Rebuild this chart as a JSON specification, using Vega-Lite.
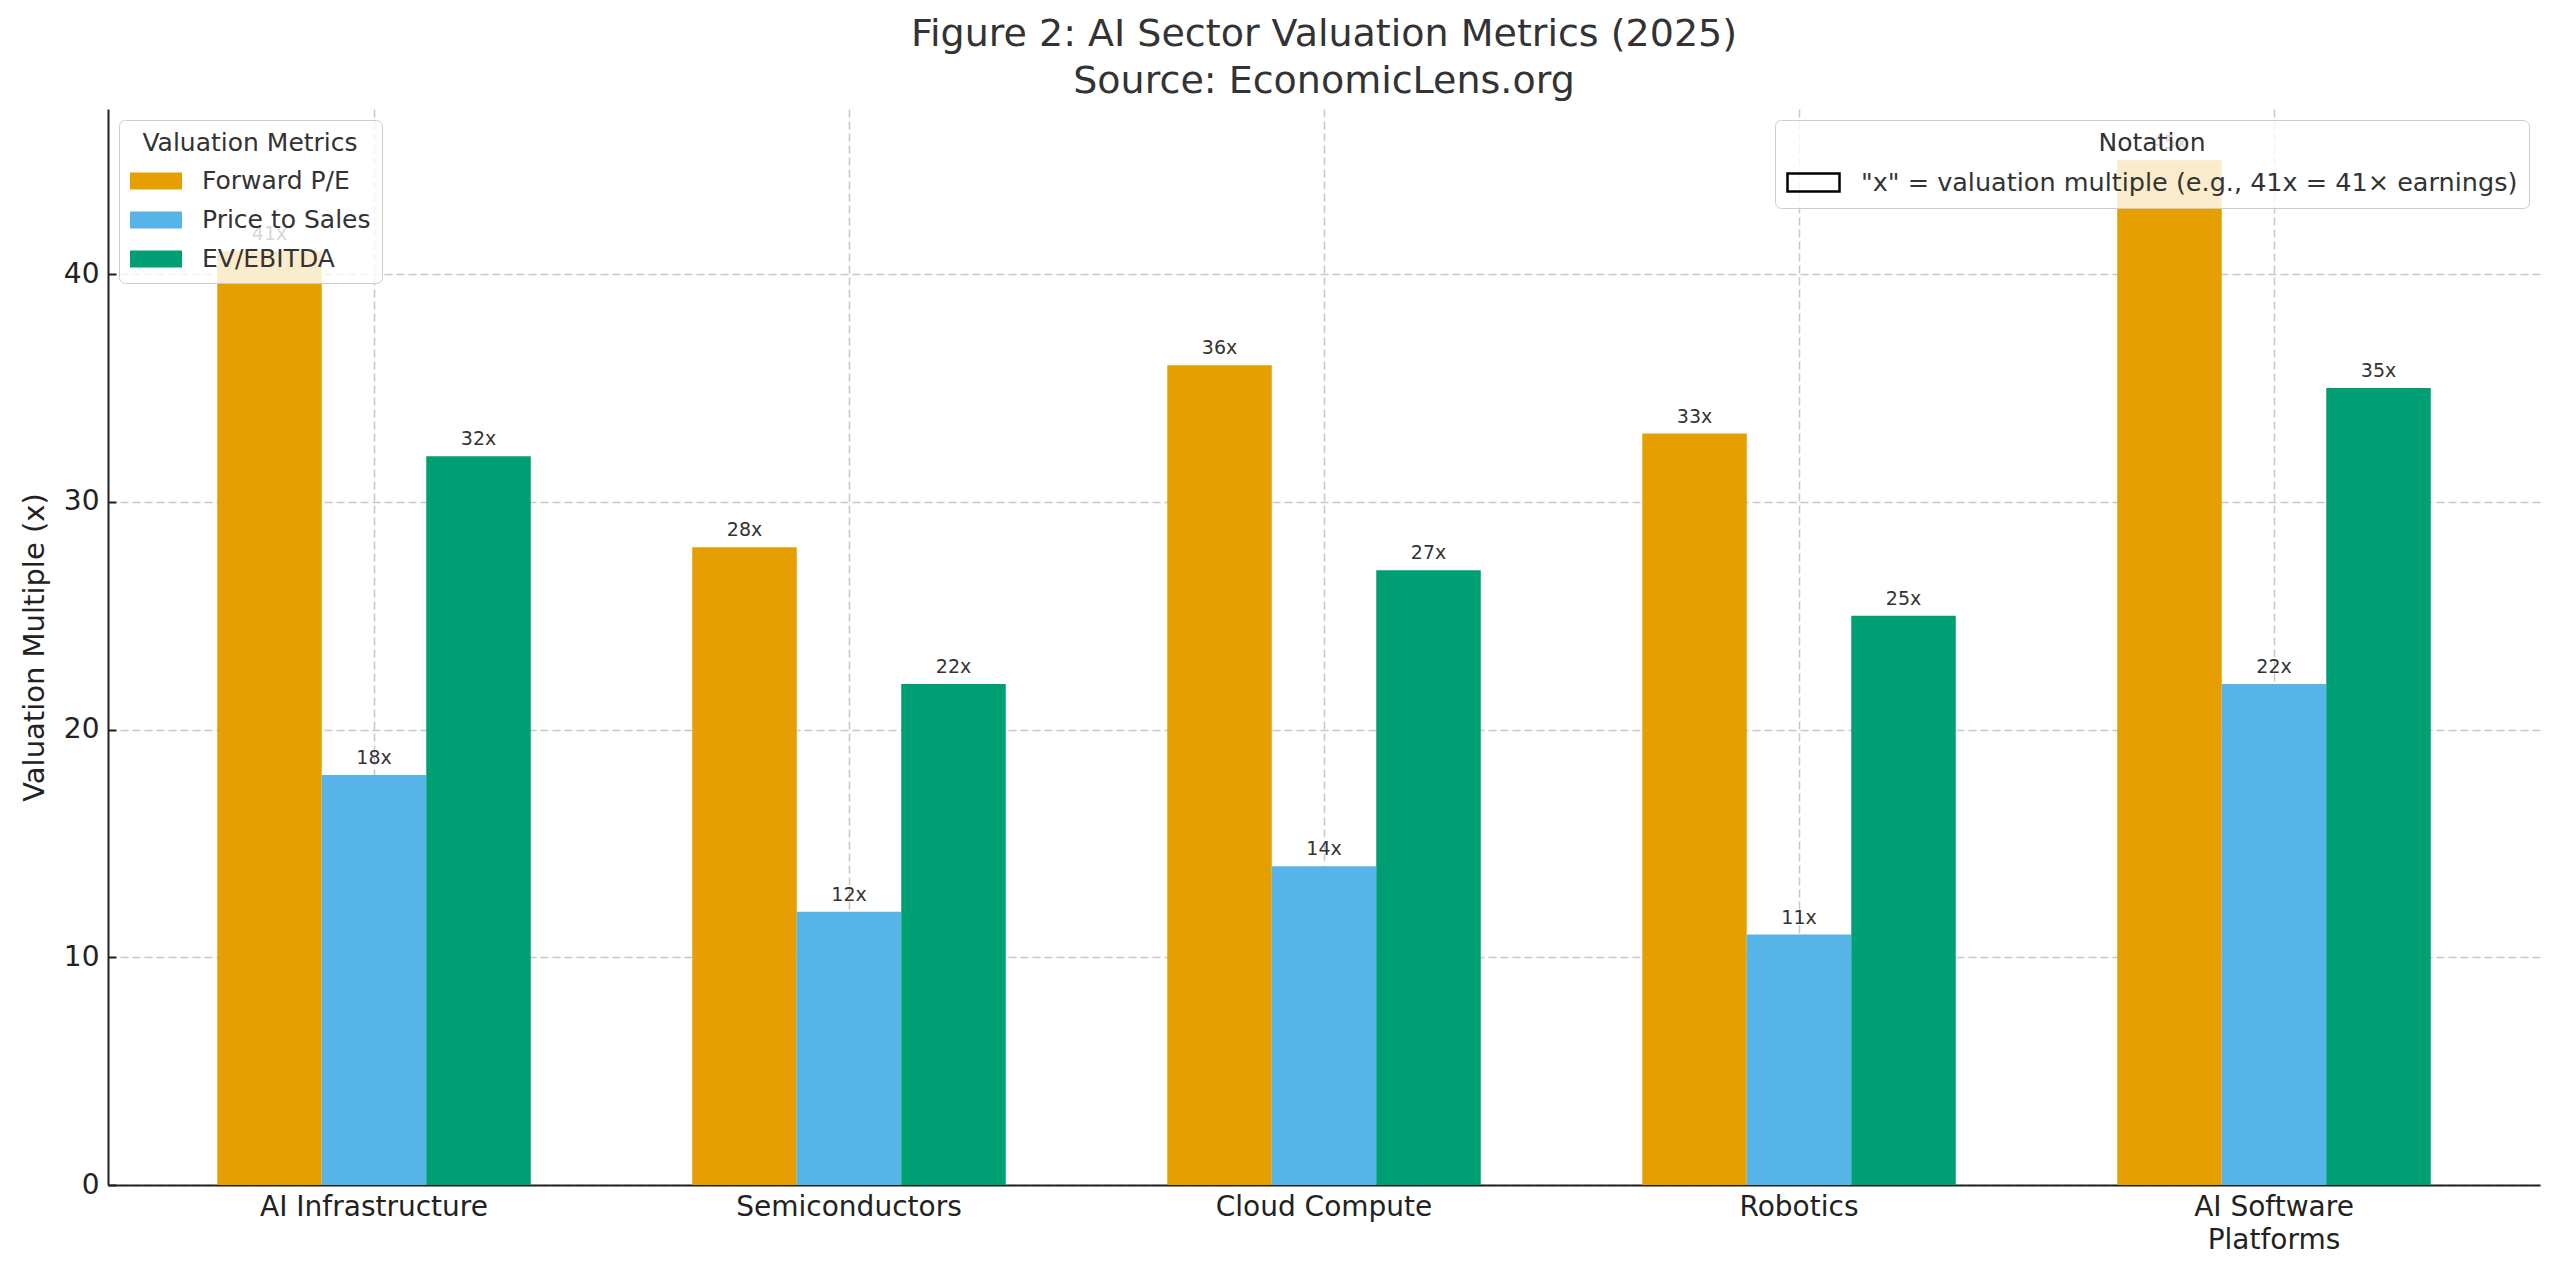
{
  "$schema": "https://vega.github.io/schema/vega-lite/v6.json",
  "width": 2432,
  "height": 1076,
  "autosize": {"type": "none"},
  "padding": {"left": 108, "top": 109, "right": 20, "bottom": 86},
  "background": "white",
  "title": {
    "text": ["Figure 2: AI Sector Valuation Metrics (2025)", "Source: EconomicLens.org"],
    "fontSize": 38,
    "fontWeight": "normal",
    "color": "#333333",
    "anchor": "middle",
    "lineHeight": 47,
    "offset": 8,
    "limit": 0
  },
  "layer": [
    {
      "data": {
        "values": [
          {"sector": "AI Infrastructure", "metric": "Forward P/E", "value": 41},
          {"sector": "AI Infrastructure", "metric": "Price to Sales", "value": 18},
          {"sector": "AI Infrastructure", "metric": "EV/EBITDA", "value": 32},
          {"sector": "Semiconductors", "metric": "Forward P/E", "value": 28},
          {"sector": "Semiconductors", "metric": "Price to Sales", "value": 12},
          {"sector": "Semiconductors", "metric": "EV/EBITDA", "value": 22},
          {"sector": "Cloud Compute", "metric": "Forward P/E", "value": 36},
          {"sector": "Cloud Compute", "metric": "Price to Sales", "value": 14},
          {"sector": "Cloud Compute", "metric": "EV/EBITDA", "value": 27},
          {"sector": "Robotics", "metric": "Forward P/E", "value": 33},
          {"sector": "Robotics", "metric": "Price to Sales", "value": 11},
          {"sector": "Robotics", "metric": "EV/EBITDA", "value": 25},
          {"sector": "AI Software Platforms", "metric": "Forward P/E", "value": 45},
          {"sector": "AI Software Platforms", "metric": "Price to Sales", "value": 22},
          {"sector": "AI Software Platforms", "metric": "EV/EBITDA", "value": 35}
        ]
      },
      "encoding": {
        "x": {
          "field": "sector",
          "type": "nominal",
          "sort": null,
          "scale": {"paddingInner": 0.34, "paddingOuter": 0.23},
          "axis": {
            "title": null,
            "grid": true,
            "labelAngle": 0,
            "labelFontSize": 28,
            "labelPadding": 16,
            "labelLimit": 0,
            "labelLineHeight": 33,
            "bandPosition": 0.5,
            "labelExpr": "datum.value == 'AI Software Platforms' ? ['AI Software', 'Platforms'] : datum.value"
          }
        },
        "xOffset": {
          "field": "metric",
          "type": "nominal",
          "sort": ["Forward P/E", "Price to Sales", "EV/EBITDA"],
          "scale": {"paddingInner": 0, "paddingOuter": 0}
        },
        "y": {
          "field": "value",
          "type": "quantitative",
          "scale": {"domain": [0, 47.25], "nice": false},
          "axis": {
            "title": "Valuation Multiple (x)",
            "values": [0, 10, 20, 30, 40],
            "labelFontSize": 28,
            "labelPadding": 17,
            "titleFontSize": 29,
            "titleFontWeight": "normal",
            "titlePadding": 14
          }
        }
      },
      "layer": [
        {
          "mark": {"type": "bar"},
          "encoding": {
            "color": {
              "field": "metric",
              "type": "nominal",
              "sort": ["Forward P/E", "Price to Sales", "EV/EBITDA"],
              "scale": {
                "domain": ["Forward P/E", "Price to Sales", "EV/EBITDA"],
                "range": ["#E69F00", "#56B4E9", "#009E73"]
              },
              "legend": {
                "title": "Valuation Metrics",
                "orient": "top-left",
                "offset": 11,
                "symbolType": "M-1,-0.33H1V0.33H-1Z",
                "symbolSize": 2704,
                "symbolStrokeWidth": 0
              }
            }
          }
        },
        {
          "mark": {
            "type": "text",
            "baseline": "alphabetic",
            "dy": -11,
            "fontSize": 19,
            "color": "#333333",
            "text": {"expr": "datum.value + 'x'"}
          },
          "encoding": {}
        }
      ]
    },
    {
      "data": {
        "values": [
          {"note": "\"x\" = valuation multiple (e.g., 41x = 41× earnings)"}
        ]
      },
      "mark": {"type": "point", "opacity": 0},
      "encoding": {
        "shape": {
          "field": "note",
          "type": "nominal",
          "scale": {"range": ["M-1,-0.35H1V0.35H-1Z"]},
          "legend": {
            "title": "Notation",
            "orient": "top-right",
            "offset": 11,
            "symbolSize": 2704,
            "symbolOpacity": 1,
            "symbolFillColor": "white",
            "symbolStrokeColor": "black",
            "symbolStrokeWidth": 2.5,
            "labelFontSize": 25.5,
            "encode": {
              "symbols": {
                "update": {
                  "opacity": {"value": 1},
                  "fill": {"value": "white"},
                  "stroke": {"value": "black"},
                  "strokeWidth": {"value": 2.5}
                }
              }
            }
          }
        }
      }
    }
  ],
  "config": {
    "font": "DejaVu Sans",
    "view": {"stroke": null},
    "axis": {
      "domainColor": "#222222",
      "domainWidth": 2,
      "tickColor": "#222222",
      "tickWidth": 2,
      "tickSize": -8,
      "labelColor": "#222222",
      "titleColor": "#222222",
      "gridColor": "#c8c8c8",
      "gridDash": [8, 4],
      "gridWidth": 1.5,
      "zindex": 1
    },
    "legend": {
      "zindex": 2,
      "fillColor": "rgba(255,255,255,0.8)",
      "strokeColor": "#cccccc",
      "cornerRadius": 6,
      "padding": 11,
      "titleFontSize": 25,
      "titleFontWeight": "normal",
      "titleColor": "#333333",
      "titleAnchor": "middle",
      "titlePadding": -1,
      "titleLimit": 0,
      "labelFontSize": 25,
      "labelColor": "#333333",
      "labelOffset": 20,
      "labelLimit": 0,
      "rowPadding": -1
    }
  }
}
